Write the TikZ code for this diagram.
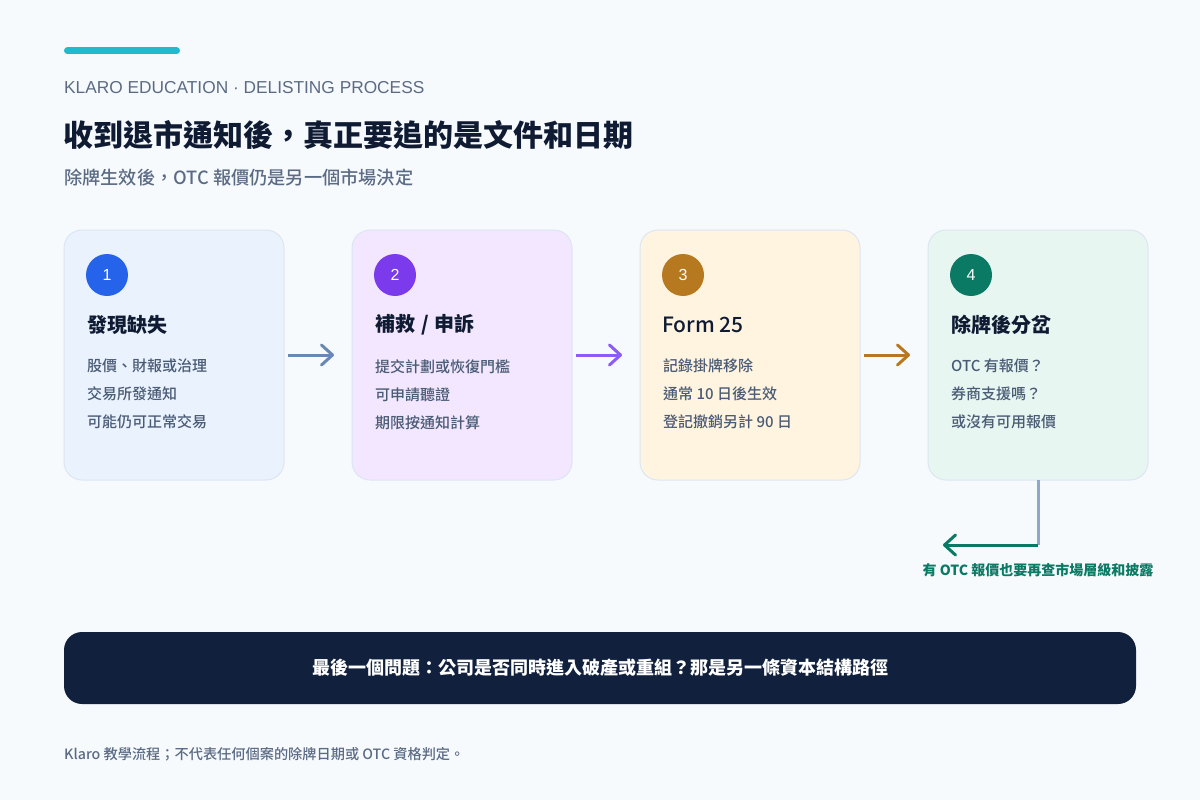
\documentclass[tikz,border=0pt]{standalone}
\usepackage{fontspec}
\setmainfont{Noto Sans CJK TC}
\newfontfamily\mediumfont{Noto Sans CJK TC Medium}
\newfontfamily\latinfont{Liberation Sans}
\usepackage{tikz}
\usetikzlibrary{arrows.meta,positioning,calc}
\definecolor{bgpage}{HTML}{F7FAFD}
\definecolor{accent}{HTML}{22B8CF}
\definecolor{ink}{HTML}{0F1B33}
\definecolor{slate}{HTML}{5B6B85}
\definecolor{muted}{HTML}{4A5B75}
\definecolor{cardline}{HTML}{DCE6F2}
\definecolor{fillA}{HTML}{EAF2FE}
\definecolor{fillB}{HTML}{F2E7FE}
\definecolor{fillC}{HTML}{FFF4E0}
\definecolor{fillD}{HTML}{E7F6F1}
\definecolor{numA}{HTML}{2563EB}
\definecolor{numB}{HTML}{7C3AED}
\definecolor{numC}{HTML}{B7791F}
\definecolor{numD}{HTML}{0B7A65}
\definecolor{flowA}{HTML}{6A88B4}
\definecolor{flowB}{HTML}{8B5CF6}
\definecolor{stem}{HTML}{8FA8C8}
\definecolor{navy}{HTML}{10203D}
\tikzset{
  card/.style={draw=cardline,line width=1pt,rounded corners=18pt,outer sep=0pt,
               minimum width=220pt,minimum height=250pt,inner sep=0pt},
  num/.style={circle,minimum size=42pt,inner sep=0pt,text=white,
              font=\fontsize{16}{18}\selectfont\latinfont},   % 步驟編號圓點
  head/.style={anchor=west,inner sep=0pt,text=ink,
               font=\fontsize{20}{24}\selectfont\bfseries},
  body/.style={anchor=north west,align=left,inner sep=0pt,text=muted,
               font=\fontsize{15}{28}\selectfont\mediumfont},
  flow/.style={line width=3pt,-{Straight Barb[length=11pt,width=20pt,round]}},
  lbl/.style={inner sep=0pt,font=\fontsize{14}{16}\selectfont\bfseries}
}

\begin{document}
\begin{tikzpicture}[x=1pt,y=-1pt]
  \fill[bgpage] (0,0) rectangle (1200,800);
  \useasboundingbox (0,0) rectangle (1200,800);

  % 標題區
  \draw[accent,line width=7pt,line cap=round] (67.5,51) -- (176.5,51);
  \node[anchor=west,inner sep=0pt,text=slate,font=\fontsize{17.3}{19}\selectfont\latinfont] (kicker) at (64,88)
    {KLARO EDUCATION · DELISTING PROCESS};
  \node[anchor=west,inner sep=0pt,text=ink,font=\fontsize{30}{34}\selectfont\bfseries] (title) at (63,135)
    {收到退市通知後，真正要追的是文件和日期};
  \node[anchor=west,inner sep=0pt,text=slate,font=\fontsize{18.2}{21}\selectfont\mediumfont] (subtitle) at (64,178)
    {除牌生效後，OTC 報價仍是另一個市場決定};

  % 四個步驟卡片
  \node[card,fill=fillA] (c1) at (174,355) {};
  \node[card,fill=fillB,right=68pt of c1] (c2) {};
  \node[card,fill=fillC,right=68pt of c2] (c3) {};
  \node[card,fill=fillD,right=68pt of c3] (c4) {};

  \node[num,fill=numA] (n1) at ($(c1.north west)+(43,45)$) {1};
  \node[num,fill=numB] (n2) at ($(c2.north west)+(43,45)$) {2};
  \node[num,fill=numC] (n3) at ($(c3.north west)+(43,45)$) {3};
  \node[num,fill=numD] (n4) at ($(c4.north west)+(43,45)$) {4};

  \node[head] (h1) at ($(c1.north west)+(23,95)$) {發現缺失};
  \node[head] (h2) at ($(c2.north west)+(23,95)$) {補救\hspace{0.3em}/\hspace{0.3em}申訴};
  \node[head,font=\fontsize{21}{24}\selectfont\mediumfont] (h3) at ($(c3.north west)+(22,95)$) {Form 25};
  \node[head] (h4) at ($(c4.north west)+(23,95)$) {除牌後分岔};

  \node[body] (b1) at ($(c1.north west)+(23,129)$) {股價、財報或治理\\交易所發通知\\可能仍可正常交易};
  \node[body] (b2) at ($(c2.north west)+(23,129)$) {提交計劃或恢復門檻\\可申請聽證\\期限按通知計算};
  \node[body] (b3) at ($(c3.north west)+(23,129)$) {記錄掛牌移除\\通常 10 日後生效\\登記撤銷另計 90 日};
  \node[body] (b4) at ($(c4.north west)+(23,129)$) {OTC 有報價？\\券商支援嗎？\\或沒有可用報價};

  % 流程箭頭
  \draw[flow,flowA] ($(c1.east)+(4,0)$) -- ($(c2.west)+(-18,0)$);
  \draw[flow,flowB] ($(c2.east)+(4,0)$) -- ($(c3.west)+(-18,0)$);
  \draw[flow,numC]  ($(c3.east)+(4,0)$) -- ($(c4.west)+(-18,0)$);

  % OTC 分支
  \coordinate (bend) at ($(c4.south)+(0,65)$);
  \coordinate (otcend) at ($(bend)+(-95,0)$);
  \draw[stem,line width=3pt] (c4.south) -- (bend);
  \draw[flow,numD] (bend) -- (otcend);
  \node[lbl,text=numD,below=18pt of bend] (otc) {有 OTC 報價也要再查市場層級和披露};

  % 底部提示
  \node[fill=navy,rounded corners=18pt,minimum width=1072pt,minimum height=72pt,
        text=white,font=\fontsize{18}{22}\selectfont\bfseries] (note) at (600,668)
    {最後一個問題：公司是否同時進入破產或重組？那是另一條資本結構路徑};
  \node[anchor=west,inner sep=0pt,text=slate,font=\fontsize{14.2}{16}\selectfont\mediumfont] (foot) at (64,754)
    {Klaro 教學流程；不代表任何個案的除牌日期或 OTC 資格判定。};
\end{tikzpicture}
\end{document}
